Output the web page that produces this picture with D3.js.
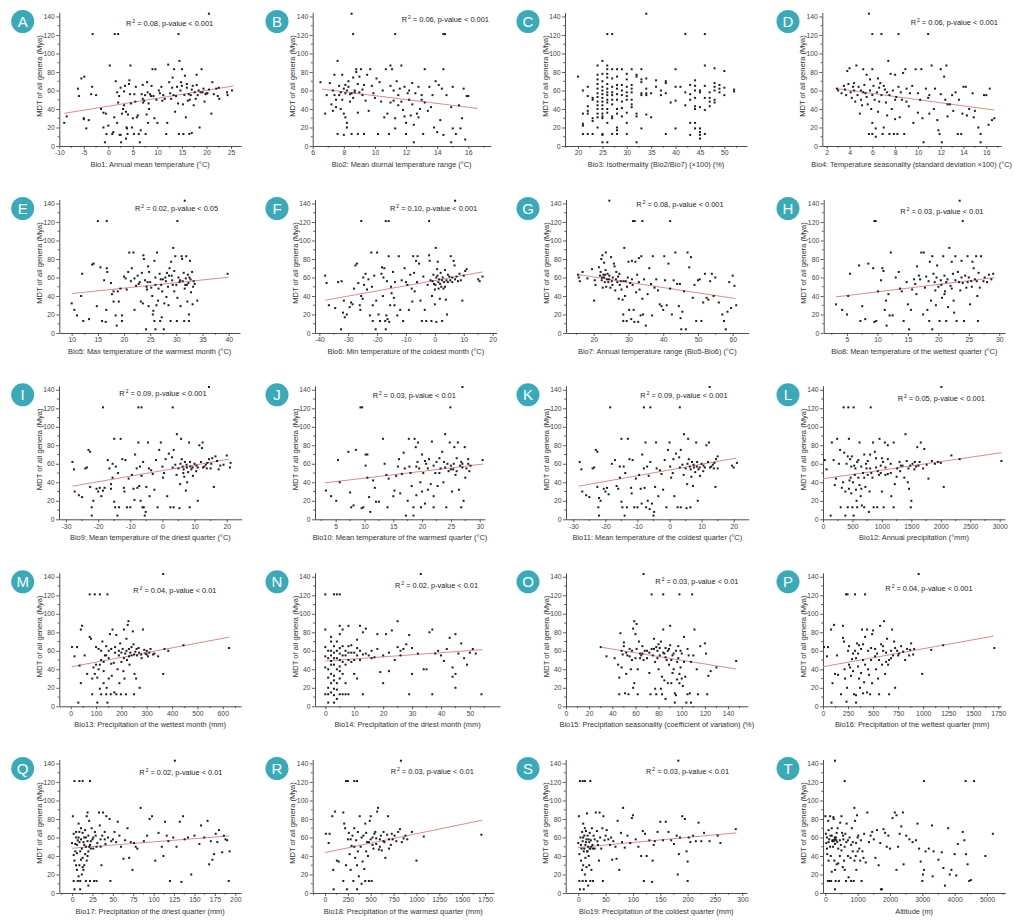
<!DOCTYPE html>
<html><head><meta charset="utf-8">
<script src="https://cdn.jsdelivr.net/npm/d3@7"></script>
<style>
body{margin:0;background:#fff}
svg text{font-family:"Liberation Sans",Arial,sans-serif}
</style>
</head><body>
<svg id="c" width="1014" height="923"></svg>
<script>
// ---------- DATA (x = climate variable, y = MDT of all genera, Mya) ----------
const bio1=[[-3.2,121],[1.3,121],[2,121],[14.3,121],[20.5,143],[-9,25],[-8.5,32],[-6.2,62],[-6,54],[-5.5,73],[-4.9,75],[-5,30],[-5,29],[-4.5,19],[-4,28],[-3.5,56],[-3.3,64],[-2.5,55],[-1.5,40],[-1,36],[-1,20],[-0.5,35],[-0.7,4],[-0.4,13],[0,22],[0.3,87],[0.8,13],[1,15],[1.2,31],[1.5,70],[1.8,25],[1.8,58],[2,47],[2.2,54],[2.3,12],[2.5,12],[2.6,4],[2.5,63],[2.8,35],[3,40],[3.2,44],[3.2,59],[3.4,65],[3.6,37],[3.7,20],[3.8,19],[3.6,8],[3.9,13],[4,34],[4.2,67],[4.3,71],[4.4,56],[4.5,87],[4.6,46],[4.8,20],[5,30],[5.2,13],[5.3,56],[5.5,48],[5.6,64],[5.8,31],[6,33],[6.2,13],[6.4,4],[6.6,17],[6.8,56],[7,66],[7,51],[7.1,47],[7.3,49],[7.5,55],[7.6,13],[7.8,34],[7.9,69],[8,58],[8.1,25],[8.2,46],[8.3,40],[8.5,56],[8.7,54],[8.8,65],[9,83],[9.2,54],[9.4,30],[9.6,83],[9.8,50],[10,25],[10.3,60],[10.5,57],[10.8,64],[11,49],[11.2,55],[11.5,51],[11.8,13],[12,25],[12.2,88],[12.4,69],[12.6,57],[12.8,51],[13,63],[13.1,74],[13.3,55],[13.4,83],[13.6,37],[13.8,54],[14,64],[14.2,46],[14.4,13],[14.5,92],[14.7,60],[14.8,69],[15,65],[15,83],[15.2,45],[15.3,13],[15.5,55],[15.6,76],[15.8,31],[16,67],[16,63],[16.2,49],[16.4,56],[16.5,13],[16.6,50],[16.8,55],[17,61],[17,14],[17.2,65],[17.4,44],[17.6,58],[17.8,51],[18,66],[18,77],[18.2,55],[18.4,60],[18.6,20],[18.8,58],[19,83],[19.2,58],[19.4,62],[19.6,48],[19.8,56],[20,57],[20.2,57],[20.5,61],[21,35],[21.2,69],[21.5,56],[22,62],[22.3,54],[22.5,63],[22.6,51],[24.2,58],[24.3,55],[25.2,60]];
const bio2=[[8.5,143],[8.6,121],[11.3,121],[14.4,121],[14.5,121],[6.5,69],[6.8,35],[6.9,55],[7.1,68],[7.2,45],[7.3,38],[7.3,60],[7.4,77],[7.5,50],[7.5,42],[7.6,92],[7.6,13],[7.7,65],[7.7,55],[7.8,58],[7.8,40],[7.9,77],[7.9,50],[8,62],[8,35],[8,12],[8.1,57],[8.1,31],[8.2,25],[8.2,20],[8.3,70],[8.3,64],[8.4,56],[8.4,48],[8.5,57],[8.5,13],[8.6,74],[8.7,60],[8.7,58],[8.8,83],[8.8,80],[8.9,67],[8.9,36],[8.9,13],[9,75],[9,58],[9.1,83],[9.2,61],[9.2,55],[9.3,13],[9.4,49],[9.5,77],[9.6,38],[9.7,83],[9.8,65],[9.9,57],[10,52],[10.1,73],[10.2,13],[10.3,69],[10.5,60],[10.6,31],[10.7,83],[10.8,35],[10.9,13],[11,87],[11,47],[11,65],[11.1,83],[11.2,60],[11.2,49],[11.3,30],[11.3,19],[11.4,70],[11.5,55],[11.6,62],[11.7,87],[11.7,48],[11.8,39],[11.9,64],[11.9,32],[12,25],[12,13],[12.1,57],[12.2,50],[12.3,33],[12.4,45],[12.4,68],[12.5,23],[12.5,4],[12.6,57],[12.7,35],[12.8,31],[12.8,64],[12.9,40],[13,55],[13.1,13],[13.2,83],[13.2,47],[13.4,38],[13.5,64],[13.6,42],[13.7,55],[13.8,20],[13.9,70],[14,15],[14.1,66],[14.2,28],[14.3,62],[14.4,12],[14.4,83],[14.6,55],[14.9,4],[14.9,42],[15,19],[15,64],[15.2,13],[15.4,44],[15.5,19],[15.6,30],[15.7,62],[15.8,7],[15.9,54],[16,54],[8.2,60],[8.6,52],[9.3,66],[10.4,48],[11.5,44],[12.2,60],[13,50],[7.4,55],[8.1,66]];
const bio3=[[26,121],[27,121],[34,143],[42,121],[46,121],[20,75],[21,60],[21,35],[21,24],[21,22],[21,13],[22,64],[22,54],[22,43],[22,38],[22,35],[22,13],[23,52],[23,50],[23,30],[23,27],[23,13],[24,87],[24,77],[24,72],[24,67],[24,62],[24,57],[24,53],[24,48],[24,44],[24,40],[24,35],[24,31],[24,20],[25,92],[25,78],[25,70],[25,64],[25,60],[25,56],[25,52],[25,48],[25,44],[25,40],[25,35],[25,32],[25,30],[25,13],[25,12],[25,4],[26,87],[26,83],[26,78],[26,74],[26,67],[26,62],[26,58],[26,55],[26,50],[26,47],[26,40],[26,36],[26,25],[26,4],[27,83],[27,73],[27,64],[27,58],[27,55],[27,50],[27,45],[27,32],[27,30],[27,13],[28,83],[28,75],[28,66],[28,62],[28,56],[28,50],[28,40],[28,35],[28,20],[28,17],[28,13],[29,83],[29,66],[29,60],[29,55],[29,48],[29,41],[29,32],[30,78],[30,72],[30,64],[30,58],[30,54],[30,50],[30,36],[30,25],[30,13],[31,83],[31,66],[31,62],[31,58],[31,50],[31,45],[31,42],[32,77],[32,75],[32,35],[32,32],[32,4],[33,83],[33,72],[33,69],[33,57],[33,55],[33,19],[34,73],[34,62],[34,57],[34,55],[34,34],[35,57],[35,31],[36,71],[36,64],[37,60],[37,55],[38,70],[38,68],[38,57],[38,13],[39,47],[40,83],[40,64],[40,49],[40,19],[41,64],[42,58],[42,44],[43,66],[43,56],[43,50],[43,25],[43,12],[44,71],[44,65],[44,60],[44,52],[44,43],[44,40],[44,25],[44,19],[45,60],[45,58],[45,42],[45,19],[45,15],[45,12],[45,8],[46,87],[46,65],[46,52],[46,39],[46,13],[47,58],[47,52],[47,48],[47,43],[48,84],[48,68],[48,64],[48,60],[48,50],[48,47],[49,66],[49,62],[49,58],[50,81],[50,63],[50,55],[52,61],[52,59]];
const bio4=[[5.7,143],[6,121],[6.8,121],[8.3,121],[10.9,121],[2.9,62],[3,60],[3.3,57],[3.5,65],[3.6,61],[3.7,55],[3.8,81],[3.9,67],[4,84],[4.1,58],[4.2,52],[4.3,64],[4.4,68],[4.5,48],[4.6,87],[4.7,55],[4.8,64],[4.9,35],[5,60],[5,50],[5.1,44],[5.2,83],[5.3,66],[5.4,57],[5.5,53],[5.5,77],[5.6,45],[5.7,13],[5.8,72],[5.8,60],[5.9,40],[6,83],[6,25],[6,13],[6.1,65],[6.2,50],[6.3,19],[6.3,10],[6.4,58],[6.5,73],[6.5,37],[6.6,63],[6.7,68],[6.8,55],[6.9,13],[7,65],[7,20],[7.1,61],[7.2,47],[7.3,33],[7.4,92],[7.5,55],[7.5,13],[7.6,78],[7.7,40],[7.8,60],[7.9,13],[8,77],[8,29],[8.1,53],[8.2,13],[8.3,64],[8.4,31],[8.5,58],[8.6,50],[8.7,79],[8.8,13],[8.9,83],[9,62],[9.2,43],[9.3,57],[9.5,65],[9.6,25],[9.8,83],[10,57],[10,36],[10.2,50],[10.3,83],[10.4,30],[10.5,4],[10.7,62],[10.9,52],[11,35],[11.2,87],[11.4,40],[11.5,62],[11.7,28],[11.8,17],[11.9,13],[12,83],[12,56],[12.1,4],[12.3,75],[12.4,50],[12.5,87],[12.6,32],[12.8,45],[13,55],[13.1,38],[13.3,58],[13.5,13],[13.6,50],[13.8,13],[13.9,35],[14,64],[14.2,64],[14.3,33],[14.5,40],[14.8,57],[14.9,31],[15,38],[15.3,20],[15.5,13],[15.5,4],[15.8,55],[16,55],[16.2,23],[16.3,62],[16.5,28],[16.7,30],[4.4,60],[5.2,58],[6,55],[6.6,48],[7.3,58],[8,50],[9,48],[11,55],[12.6,45]];
const bio5=[[15,121],[16.7,121],[30.2,121],[31.6,143],[10,32],[10.5,25],[11,19],[11.8,40],[12,64],[12.2,13],[13.3,15],[13.9,74],[14.2,75],[14.8,29],[15.5,71],[15.8,13],[16.2,57],[16.5,12],[16.6,25],[16.7,70],[16.8,66],[17.5,54],[17.7,42],[18,45],[18,34],[18.4,19],[18.6,8],[18.8,45],[19,34],[19.3,48],[19.6,19],[19.6,13],[20,61],[20.3,59],[20.5,47],[20.8,66],[21,87],[21.3,56],[21.5,70],[21.8,87],[22,59],[22,25],[22.3,51],[22.6,62],[22.8,53],[23,55],[23.2,34],[23.4,65],[23.6,32],[23.7,84],[23.8,80],[24,57],[24.2,4],[24.3,50],[24.4,47],[24.6,72],[24.7,29],[24.8,66],[25,55],[25.2,49],[25.4,40],[25.5,20],[25.6,24],[25.8,78],[25.8,13],[26,60],[26,4],[26.2,30],[26.3,87],[26.5,35],[26.6,48],[26.8,64],[26.9,13],[27.1,52],[27.2,17],[27.3,45],[27.4,58],[27.6,4],[27.7,32],[27.9,60],[28,56],[28.1,39],[28.2,65],[28.4,50],[28.5,30],[28.7,70],[28.9,13],[29,77],[29.1,62],[29.2,57],[29.4,92],[29.6,67],[29.6,45],[29.8,83],[30,52],[30.1,13],[30.2,38],[30.4,60],[30.6,55],[30.8,29],[31,83],[31.1,80],[31.2,56],[31.4,65],[31.5,13],[31.6,48],[31.8,59],[31.9,83],[32,52],[32.1,34],[32.2,63],[32.3,54],[32.4,13],[32.4,20],[32.6,78],[32.7,58],[32.8,44],[33,66],[33.1,31],[33.3,56],[33.5,53],[34,35],[39.8,64],[24.5,55],[26,52],[27,58],[28.6,62],[29.3,52],[30.7,57],[31.7,52],[32.5,60],[33.2,50]];
const bio6=[[-25.5,121],[-17,121],[-16,121],[-2,121],[7,143],[-38,62],[-37.5,54],[-36.7,30],[-34.5,27],[-33.5,55],[-32.5,4],[-32.3,56],[-31.8,22],[-31.5,35],[-31.2,17],[-30.5,20],[-29.5,28],[-29,33],[-28.5,31],[-28,48],[-27.5,73],[-27,75],[-26.5,54],[-26,30],[-25.8,25],[-25.5,40],[-25,37],[-24.8,60],[-24.5,52],[-24,64],[-23.5,47],[-23,58],[-22.5,19],[-22,87],[-21.8,50],[-21.5,30],[-21.5,13],[-21,62],[-20.5,4],[-20.3,35],[-20,87],[-19.5,20],[-19,13],[-18.5,64],[-18.3,71],[-18,40],[-17.8,60],[-17.5,70],[-17.2,13],[-17,4],[-16.8,19],[-16.6,56],[-16.4,15],[-16,83],[-15.8,12],[-15.5,30],[-15.2,50],[-15,43],[-14.5,66],[-14.2,38],[-14,30],[-13.8,55],[-13,19],[-12.5,83],[-12,25],[-11.5,57],[-11,13],[-10.5,70],[-10,55],[-9.5,52],[-9,25],[-8.5,63],[-8,48],[-7.8,34],[-7.5,83],[-7.2,65],[-7,45],[-6.5,78],[-6.2,55],[-6,83],[-5.5,75],[-5,35],[-4.5,13],[-4,61],[-3.5,25],[-3,13],[-2.5,52],[-2,84],[-1.8,78],[-1.5,57],[-1.2,13],[-1,40],[-0.5,63],[-0.3,53],[0,31],[0,47],[0.3,92],[0.5,60],[0.5,12],[0.8,69],[1,77],[1.2,55],[1.3,48],[1.5,58],[1.7,37],[2,65],[2.2,50],[2.5,13],[2.7,60],[3,48],[3.2,55],[3.5,68],[3.8,36],[4,57],[4.2,20],[4.5,63],[5,61],[5.3,57],[5.5,83],[6,55],[6.5,78],[6.8,73],[7,58],[7.5,61],[8,56],[8.5,64],[9,57],[9.5,35],[10,62],[10.5,67],[11,69],[15,58],[15.5,56],[16.5,61],[-0.8,56],[0.2,52],[0.9,62],[1.8,53],[2.5,57],[3.5,50],[4.5,55],[6,60]];
const bio7=[[24.5,143],[31.3,121],[31.8,121],[34,121],[42,121],[15.5,63],[15.7,60],[16,56],[16.8,66],[18.2,59],[19.5,69],[20.1,35],[20.3,57],[20.5,52],[21.5,71],[21.8,62],[22,66],[22.2,80],[22.3,57],[22.5,84],[22.6,49],[22.8,63],[23,60],[23,76],[23.2,55],[23.4,68],[23.5,87],[23.6,50],[23.8,58],[24,64],[24.2,55],[24.5,62],[24.8,49],[25,82],[25.2,56],[25.5,60],[25.8,75],[26,72],[26.2,46],[26.5,66],[26.8,55],[27,61],[27.2,37],[27.5,52],[27.8,56],[28,47],[28.3,36],[28.5,20],[28.5,13],[28.8,92],[29,40],[29.2,56],[29.5,13],[29.8,60],[30,77],[30.2,25],[30.5,54],[30.8,15],[31,78],[31.2,52],[31.5,25],[31.7,12],[32,77],[32.2,44],[32.5,63],[32.8,12],[33,81],[33.2,47],[33.5,19],[33.7,83],[34,37],[34.2,20],[34.5,58],[35,8],[35.5,42],[36,70],[36.5,53],[36.8,19],[37,83],[37.5,49],[38,58],[38.5,46],[39,31],[39.5,29],[40,25],[40.3,83],[40.5,57],[41,30],[41.5,75],[42,48],[42.5,20],[43,57],[43.5,87],[44,53],[44.5,29],[44.8,53],[45,16],[45.2,4],[45.5,23],[46,45],[46.5,4],[47,87],[47.5,71],[48,82],[48.5,38],[49,52],[49.5,13],[50,57],[50.5,58],[51,13],[51.5,33],[52,64],[52.5,38],[53,36],[53.5,56],[54,64],[54.5,40],[55,60],[56,33],[57,20],[57.5,13],[58,4],[58.5,23],[59,55],[59.5,27],[60,62],[60.5,51],[61,30],[22.4,60],[23.3,63],[24.4,58],[25.4,52],[26.4,58],[27.4,64],[28.6,56],[29.6,50],[31,58],[33,55]];
const bio8=[[9.5,121],[9.7,121],[23.5,143],[24,121],[3.2,31],[4.2,25],[5,20],[5.2,40],[5.5,64],[7,73],[7.2,13],[7.5,29],[8,15],[8.5,75],[9.3,70],[9.5,12],[9.8,13],[10.1,45],[10.6,57],[10.8,70],[11,67],[11.2,25],[11.4,35],[11.5,8],[11.8,42],[12,19],[12.2,87],[12.5,19],[13,60],[13.5,66],[13.7,48],[14,45],[14.3,13],[14.8,55],[15,31],[15.2,4],[15.5,25],[15.7,47],[16,58],[16.2,53],[16.5,72],[16.8,62],[17,58],[17.2,87],[17.5,20],[17.6,87],[17.8,49],[18,61],[18.2,25],[18.5,13],[18.6,77],[18.8,35],[19,83],[19,4],[19.2,64],[19.4,55],[19.6,30],[19.8,73],[20,50],[20.2,13],[20.4,57],[20.6,38],[20.8,83],[21,62],[21.1,45],[21.3,13],[21.5,58],[21.6,28],[21.8,92],[22,51],[22.2,77],[22.4,64],[22.5,35],[22.6,22],[22.8,83],[23,13],[23.2,66],[23.4,55],[23.6,46],[23.8,78],[24,54],[24.2,13],[24.4,62],[24.6,49],[24.8,83],[25,60],[25.2,31],[25.4,56],[25.6,77],[25.8,70],[26,58],[26.2,83],[26.4,40],[26.5,13],[26.6,65],[26.8,49],[27,83],[27.4,56],[27.6,60],[28,55],[28.3,63],[28.7,58],[29,64],[18.4,56],[19.5,46],[20.5,52],[21.3,55],[22.8,57],[23.8,60],[24.8,55],[25.5,50],[26.3,56],[19.7,60],[21,42],[22.2,48],[16.4,42]];
const bio9=[[-18.5,121],[-7.5,121],[-6.5,121],[3.2,121],[14.5,143],[-28,62],[-27.5,54],[-27.3,30],[-26,26],[-25,24],[-24,55],[-23.5,56],[-23,75],[-22.5,73],[-22.5,35],[-22,13],[-22,4],[-21.5,20],[-20.5,33],[-20,30],[-19.5,34],[-19,25],[-18.5,31],[-18,34],[-17,64],[-16.5,55],[-16,33],[-16,38],[-15.5,60],[-15.5,45],[-15,87],[-15,19],[-14.7,13],[-14.5,57],[-14,4],[-13.8,50],[-13.5,13],[-13,87],[-12.5,65],[-12,34],[-11.8,30],[-11.5,64],[-11,13],[-10.5,44],[-10,13],[-9.5,48],[-9,33],[-8.7,21],[-8.5,70],[-8,55],[-7.8,34],[-7.5,83],[-7.2,36],[-7,57],[-6.8,20],[-6.5,47],[-6.2,13],[-6,62],[-5.8,13],[-5.5,4],[-5.2,8],[-5,35],[-4.5,83],[-4.2,55],[-4,25],[-3.5,53],[-3,49],[-2.5,32],[-2,64],[-1.5,13],[-1,75],[-0.5,83],[0,57],[0.2,45],[0.5,50],[1,65],[1.5,25],[2,71],[2.5,13],[3,67],[3.5,75],[3.5,13],[4,59],[4.5,92],[5,55],[5.3,12],[5.5,38],[5.8,87],[6,65],[6.3,57],[6.5,50],[6.8,46],[7,62],[7.3,31],[7.5,59],[7.7,40],[8,51],[8.3,83],[8.5,13],[8.7,57],[9,54],[9.5,47],[10,60],[10.5,52],[11,56],[11,20],[11.5,80],[12,62],[12.3,77],[12.5,83],[13,57],[13.5,59],[14,61],[14.5,65],[15,55],[15.5,66],[16,35],[16.5,68],[17,63],[17.5,54],[18,58],[19,59],[20,69],[21,56],[21.2,61],[5.6,60],[6.6,54],[7.6,56],[8.6,62],[9.4,56],[10.6,58],[12.6,56],[13.8,55],[15.2,60],[4.4,48],[3.2,56]];
const bio10=[[9.3,121],[9.6,121],[24.9,121],[27,143],[3.3,31],[4.2,25],[5.1,20],[5.4,64],[5.7,40],[7.2,73],[7.5,29],[7.7,13],[8.1,15],[8.5,75],[9.5,12],[9.8,13],[10.2,70],[10.2,58],[10.5,70],[10.5,45],[10.8,24],[11,8],[11.5,42],[11.8,34],[12,19],[12.5,19],[13.2,87],[13.5,60],[13.8,48],[14,13],[14.2,44],[15,25],[15.2,31],[15.5,47],[15.8,57],[16,65],[16.2,28],[16.5,49],[16.8,72],[17,55],[17.2,4],[17.5,20],[17.7,87],[17.8,57],[18,50],[18.2,36],[18.5,13],[18.5,4],[18.7,87],[18.9,78],[19,26],[19.2,62],[19.3,83],[19.5,55],[19.7,40],[19.8,13],[20,30],[20,70],[20.2,50],[20.5,17],[20.7,60],[21,32],[21.2,65],[21.5,38],[21.7,84],[22,25],[22,13],[22.3,50],[22.5,62],[22.7,36],[23,66],[23.2,55],[23.5,73],[23.7,40],[24,92],[24.2,13],[24.4,60],[24.6,52],[24.8,83],[25,58],[25.2,30],[25.4,54],[25.6,78],[25.8,48],[26,66],[26.2,83],[26.4,32],[26.6,58],[26.8,13],[27,60],[27.2,20],[27.4,78],[27.5,45],[27.7,55],[28,65],[28.2,52],[28.4,58],[30.5,64],[21,55],[22,58],[23,50],[24,56],[25,54],[26,52],[27,56],[28,60],[19,57],[20.5,63],[23.8,62],[26.8,62],[25.5,60]];
const bio11=[[-18.5,121],[-8,121],[-6,121],[3.2,121],[12.5,143],[-28,62],[-27.5,54],[-27.2,30],[-26,26],[-25,24],[-24,55],[-23.5,56],[-23,75],[-22.5,73],[-22.5,35],[-22.2,13],[-22,4],[-22,23],[-21.5,20],[-20.5,33],[-20,30],[-19.5,34],[-19,27],[-18,60],[-17,64],[-16.5,36],[-16,33],[-15.5,57],[-15.5,45],[-15,87],[-15,19],[-14.7,13],[-14.3,57],[-14,4],[-13.8,50],[-13.3,13],[-13,87],[-12.5,65],[-12,34],[-11.8,28],[-11.5,64],[-11,13],[-10.5,44],[-10,13],[-9.5,48],[-9,33],[-8.7,17],[-8.5,70],[-8,55],[-7.8,34],[-7.5,83],[-7.3,13],[-7,57],[-6.8,20],[-6.5,47],[-6.2,11],[-6,62],[-5.5,17],[-5,4],[-4.8,8],[-4.5,35],[-4.2,83],[-4,55],[-3.5,25],[-3,53],[-2.5,49],[-2,32],[-1.5,64],[-1,13],[-0.5,75],[0,83],[0.2,57],[0.5,45],[1,50],[1.2,65],[1.5,25],[2,71],[2.5,13],[3,67],[3.5,75],[3.5,13],[4,59],[4.5,92],[5,55],[5.3,12],[5.5,38],[5.8,87],[6,65],[6.3,57],[6.5,13],[6.8,46],[7,62],[7.3,36],[7.5,59],[8,51],[8.3,83],[8.5,57],[8.8,20],[9,54],[9.5,47],[10,60],[10.5,52],[11,56],[11.5,80],[12,62],[12.3,83],[13,57],[13.5,59],[14,61],[14.3,35],[14.5,65],[15,68],[15,55],[19.5,58],[20,56],[21,61],[5.6,60],[6.6,54],[7.6,56],[8.6,62],[9.4,56],[10.6,58],[12.6,56],[13.8,55],[4.4,48],[3.2,56]];
const bio12=[[350,121],[430,121],[520,121],[810,121],[2010,143],[30,64],[60,54],[130,4],[150,83],[180,64],[200,37],[220,44],[240,87],[270,60],[290,75],[300,13],[320,34],[340,40],[360,72],[380,30],[380,4],[400,60],[420,13],[440,87],[450,42],[460,65],[480,57],[480,28],[490,68],[500,13],[510,40],[520,4],[540,48],[550,55],[560,32],[570,20],[580,13],[600,64],[620,83],[620,37],[640,25],[650,57],[660,15],[680,50],[700,70],[700,13],[720,35],[740,55],[760,63],[780,8],[790,30],[800,70],[820,50],[850,83],[860,13],[880,73],[900,56],[920,13],[950,48],[960,87],[980,50],[1000,30],[1020,62],[1030,13],[1050,83],[1060,56],[1100,49],[1100,80],[1150,60],[1160,25],[1200,83],[1200,13],[1220,38],[1260,55],[1300,62],[1310,52],[1350,58],[1380,45],[1400,92],[1420,63],[1440,40],[1460,33],[1480,58],[1490,13],[1500,20],[1520,60],[1550,54],[1580,57],[1600,78],[1640,62],[1660,83],[1700,55],[1720,76],[1760,59],[1790,44],[1850,63],[1900,60],[1950,62],[2000,61],[2050,35],[2180,69],[2320,65],[3030,63],[420,68],[440,33],[470,45],[530,58],[580,62],[600,45],[650,33],[700,45],[730,60],[760,48],[800,55],[840,45],[900,66],[930,52],[980,58],[1000,66],[1060,48],[1100,65],[1150,50],[1250,46],[1320,58],[1450,55],[1560,62],[1620,58]];
const bio13=[[75,121],[95,121],[115,121],[145,121],[365,143],[5,64],[15,54],[25,64],[30,4],[35,44],[40,83],[40,25],[45,87],[55,55],[65,35],[75,75],[80,73],[85,30],[85,13],[90,42],[95,35],[100,64],[100,45],[105,31],[105,4],[110,62],[115,45],[115,19],[120,60],[120,13],[125,70],[130,38],[130,25],[135,55],[140,65],[140,13],[142,20],[145,4],[150,52],[150,30],[155,78],[158,13],[160,62],[162,33],[165,83],[170,47],[172,15],[175,58],[180,77],[180,13],[185,40],[190,55],[192,25],[195,68],[198,13],[200,48],[205,62],[208,38],[210,83],[212,30],[215,57],[218,13],[220,73],[222,50],[225,88],[228,92],[230,62],[232,45],[235,58],[240,55],[245,81],[248,67],[250,13],[252,35],[255,59],[258,30],[262,55],[268,63],[272,20],[278,56],[285,83],[290,61],[295,57],[300,60],[305,54],[310,58],[315,62],[325,56],[330,57],[345,54],[365,35],[370,62],[385,60],[445,66],[625,63],[120,50],[140,55],[160,46],[175,64],[190,60],[200,58],[210,52],[220,60],[230,54],[240,64],[250,56],[260,62],[270,58],[280,52],[300,56],[110,40],[130,48],[150,60]];
const bio14=[[0,121],[3,121],[4,121],[5,121],[33,143],[0,83],[0,64],[0,54],[0,42],[0,13],[1,40],[1,31],[1,20],[1,4],[1,60],[1,13],[2,75],[2,60],[2,49],[2,35],[2,25],[2,15],[2,70],[2,55],[3,58],[3,45],[3,33],[3,28],[3,19],[3,12],[3,4],[3,65],[4,70],[4,52],[4,40],[4,25],[4,8],[4,18],[5,87],[5,78],[5,63],[5,57],[5,50],[5,43],[5,38],[5,30],[5,13],[6,83],[6,65],[6,48],[6,35],[6,13],[7,60],[7,55],[7,25],[7,13],[8,87],[8,65],[8,50],[8,13],[9,58],[9,48],[10,58],[10,35],[11,72],[11,30],[11,63],[12,87],[12,50],[13,80],[13,56],[13,13],[14,84],[15,55],[16,60],[17,53],[18,78],[19,37],[20,55],[20,25],[21,78],[22,38],[23,82],[24,50],[25,92],[25,64],[26,60],[27,62],[28,67],[29,77],[29,13],[30,63],[30,35],[32,57],[34,40],[35,40],[36,80],[37,13],[37,83],[38,57],[39,60],[40,55],[41,49],[42,62],[43,74],[44,42],[44,32],[45,78],[45,20],[45,35],[46,57],[47,68],[48,52],[49,45],[50,58],[51,62],[52,57],[54,13],[1,52],[2,45],[3,52],[4,60],[6,55],[7,45],[8,58],[9,66],[10,50],[11,55],[12,60],[14,57],[16,52],[18,62],[22,58],[26,55]];
const bio15=[[67,143],[74,121],[84,121],[98,121],[109,121],[30,64],[35,54],[42,52],[45,45],[46,13],[46,31],[47,79],[48,42],[48,60],[49,56],[50,65],[50,69],[51,14],[52,35],[53,55],[54,13],[55,62],[56,40],[57,60],[58,84],[58,20],[59,92],[59,25],[60,52],[60,78],[61,89],[62,40],[62,13],[63,70],[64,57],[65,55],[66,65],[67,50],[68,60],[70,52],[72,36],[73,13],[74,62],[75,55],[76,73],[77,48],[77,19],[78,64],[78,13],[79,60],[80,67],[80,40],[81,55],[82,70],[82,19],[83,32],[83,13],[84,83],[85,57],[85,28],[86,63],[86,8],[87,50],[88,60],[88,25],[89,45],[90,66],[90,87],[91,25],[92,55],[92,36],[93,40],[94,4],[94,14],[95,60],[95,12],[96,48],[96,29],[97,65],[98,35],[98,25],[99,42],[100,57],[100,30],[101,22],[102,75],[103,32],[104,4],[105,13],[106,55],[107,14],[108,48],[108,4],[110,55],[111,83],[113,40],[114,13],[116,65],[120,68],[121,57],[122,13],[123,33],[125,38],[130,42],[147,49],[52,58],[55,54],[57,50],[61,62],[64,52],[66,57],[70,60],[72,58],[76,62],[79,52],[81,63],[84,58],[86,53],[89,62],[91,50],[93,57],[97,52],[99,60],[102,48],[105,62]];
const bio16=[[230,121],[245,121],[320,121],[420,121],[955,143],[10,64],[40,54],[50,64],[80,83],[85,4],[95,25],[110,88],[120,35],[140,55],[150,34],[180,13],[200,74],[200,87],[210,70],[215,40],[220,30],[235,5],[240,20],[250,60],[260,65],[270,42],[280,33],[290,51],[300,57],[310,13],[320,60],[330,4],[330,12],[340,68],[350,43],[360,30],[360,66],[370,20],[380,62],[380,36],[390,83],[400,50],[400,14],[410,26],[420,45],[420,75],[440,83],[440,15],[450,60],[460,34],[470,13],[480,50],[490,25],[490,78],[500,82],[520,54],[530,40],[540,57],[550,30],[560,13],[570,87],[580,67],[590,45],[600,60],[610,92],[620,35],[630,58],[640,73],[650,45],[660,13],[660,50],[680,60],[690,83],[700,55],[710,70],[720,20],[740,60],[760,57],[780,65],[800,59],[820,50],[840,62],[860,55],[870,61],[880,68],[900,56],[910,62],[990,35],[1080,61],[1200,66],[1710,63],[260,45],[300,38],[330,52],[350,57],[400,67],[450,40],[480,63],[520,62],[560,50],[600,65],[630,48],[680,52],[720,63],[750,55]];
const bio17=[[3,121],[9,121],[13,121],[22,121],[126,143],[0,54],[1,83],[2,64],[2,41],[2,13],[3,35],[3,4],[4,53],[5,66],[5,30],[5,60],[6,43],[6,25],[7,57],[7,13],[8,75],[8,18],[9,66],[9,55],[9,30],[10,45],[10,13],[10,4],[11,58],[11,70],[12,48],[12,20],[13,65],[13,38],[14,55],[14,25],[15,60],[15,30],[16,68],[16,42],[17,50],[17,13],[18,83],[18,35],[19,87],[19,56],[20,62],[20,45],[20,8],[21,78],[22,52],[22,13],[23,48],[24,70],[25,58],[26,48],[27,13],[28,66],[29,62],[30,13],[31,54],[33,87],[34,73],[35,58],[36,30],[37,62],[38,87],[40,66],[41,53],[42,83],[44,60],[46,80],[47,13],[48,56],[50,58],[52,66],[54,55],[56,77],[58,62],[60,50],[63,37],[65,57],[68,70],[70,38],[72,55],[74,25],[76,54],[78,50],[80,48],[84,92],[88,56],[92,62],[95,80],[98,83],[102,35],[106,65],[110,50],[112,40],[114,77],[116,62],[118,56],[120,13],[124,60],[128,50],[132,77],[134,12],[136,83],[138,58],[142,60],[146,20],[150,62],[156,53],[158,73],[162,60],[166,78],[168,31],[170,56],[172,36],[174,42],[176,64],[178,55],[180,68],[184,44],[186,62],[188,58],[190,57],[192,13],[193,45],[4,45],[6,52],[8,60],[11,36],[13,28],[15,52],[17,60],[19,40],[21,50],[23,56],[26,60],[30,50],[35,50],[40,58]];
const bio18=[[230,121],[250,121],[320,121],[350,121],[830,143],[10,64],[40,54],[50,64],[80,83],[90,25],[95,4],[110,88],[130,35],[150,34],[200,87],[200,13],[210,75],[220,70],[230,30],[240,4],[250,58],[260,65],[270,42],[280,25],[290,51],[300,62],[310,13],[320,70],[330,38],[340,57],[350,30],[350,4],[360,66],[370,18],[380,83],[390,50],[400,10],[410,34],[420,62],[430,26],[440,75],[440,13],[450,45],[460,55],[470,40],[480,13],[490,78],[500,58],[500,83],[510,13],[520,60],[530,48],[540,64],[550,66],[560,53],[570,88],[580,92],[590,47],[600,58],[610,62],[620,46],[640,66],[650,55],[660,38],[680,63],[690,83],[700,58],[720,52],[740,58],[760,62],[780,56],[800,66],[820,69],[840,55],[860,59],[880,62],[900,58],[950,66],[1000,35],[1080,61],[1710,63],[280,58],[320,50],[360,45],[400,60],[450,65],[480,55],[520,52],[560,59],[600,50],[640,56],[700,48],[730,64]];
const bio19=[[3,121],[8,121],[12,121],[22,121],[183,143],[0,54],[1,83],[2,42],[2,13],[3,4],[4,60],[5,35],[6,48],[7,66],[7,25],[8,56],[8,13],[9,75],[9,30],[10,45],[10,4],[11,62],[12,70],[12,20],[13,52],[13,38],[14,67],[14,13],[15,58],[15,28],[16,86],[16,45],[17,62],[18,50],[18,8],[19,40],[20,55],[20,30],[21,65],[22,48],[22,13],[23,57],[24,25],[25,70],[26,52],[27,13],[28,62],[30,48],[32,87],[34,67],[35,56],[36,52],[38,35],[39,87],[40,60],[42,48],[44,70],[45,13],[46,83],[48,57],[50,62],[52,68],[55,58],[58,52],[60,60],[62,36],[64,56],[68,50],[70,37],[72,78],[75,25],[78,65],[80,55],[82,92],[85,49],[90,62],[95,54],[98,81],[100,84],[105,58],[110,50],[115,40],[118,67],[120,13],[122,64],[125,40],[130,57],[135,12],[136,35],[138,52],[140,56],[145,66],[150,77],[155,57],[160,77],[165,66],[170,57],[175,53],[180,62],[182,20],[184,42],[186,60],[190,83],[195,80],[198,45],[200,13],[200,34],[202,60],[205,55],[210,62],[215,56],[220,76],[225,56],[230,65],[240,56],[255,62],[260,54],[288,69],[5,52],[9,60],[11,48],[14,55],[17,45],[19,58],[21,48],[24,50],[27,48],[30,58]];
const altitude=[[300,143],[600,121],[3050,121],[4340,121],[4600,121],[0,83],[20,64],[30,54],[50,48],[60,42],[80,13],[90,78],[100,68],[100,35],[120,58],[130,13],[150,83],[160,62],[170,40],[180,13],[200,23],[200,70],[220,56],[240,50],[250,82],[260,80],[280,35],[290,60],[300,4],[300,25],[320,13],[330,60],[350,31],[370,55],[380,70],[400,32],[420,13],[450,40],[460,76],[480,52],[500,83],[520,65],[540,28],[560,58],[580,35],[600,25],[620,64],[640,13],[660,75],[700,57],[720,17],[750,60],[780,38],[800,13],[820,70],[850,55],[880,13],[900,92],[920,78],[940,40],[960,25],[980,84],[1000,60],[1020,62],[1050,48],[1080,35],[1100,57],[1120,13],[1150,45],[1180,38],[1200,64],[1250,33],[1300,87],[1350,55],[1400,62],[1450,66],[1500,58],[1550,38],[1600,68],[1650,30],[1700,54],[1720,4],[1750,4],[1800,69],[1850,65],[1900,50],[1950,62],[2000,48],[2080,81],[2150,87],[2200,84],[2200,25],[2250,50],[2300,64],[2350,72],[2400,87],[2420,31],[2500,62],[2600,58],[2700,55],[2800,57],[2850,75],[2900,48],[2950,34],[3000,13],[3020,20],[3050,25],[3100,45],[3200,48],[3300,73],[3320,18],[3350,45],[3500,36],[3600,44],[3650,27],[3700,8],[3800,70],[3850,20],[3900,25],[4000,42],[4050,19],[4100,53],[4250,66],[4300,57],[4350,42],[4400,31],[4450,13],[4500,14],[4950,40],[5180,64],[50,60],[100,55],[150,50],[200,62],[250,57],[300,53],[350,65],[400,48],[450,57],[500,46],[550,62],[600,50],[650,55],[700,40],[800,52],[850,45],[900,35],[950,54],[1000,45],[220,57],[260,56],[300,58],[340,57]];

const panelData=[bio1,bio2,bio3,bio4,bio5,bio6,bio7,bio8,bio9,bio10,bio11,bio12,bio13,bio14,bio15,bio16,bio17,bio18,bio19,altitude];
const panelLetters=["A","B","C","D","E","F","G","H","I","J","K","L","M","N","O","P","Q","R","S","T"];
const xTitles=["Bio1: Annual mean temperature (°C)","Bio2: Mean diurnal temperature range (°C)","Bio3: Isothermality (Bio2/Bio7) (×100) (%)","Bio4: Temperature seasonality (standard deviation ×100) (°C)","Bio5: Max temperature of the warmest month (°C)","Bio6: Min temperature of the coldest month (°C)","Bio7: Annual temperature range (Bio5-Bio6) (°C)","Bio8: Mean temperature of the wettest quarter (°C)","Bio9: Mean temperature of the driest quarter (°C)","Bio10: Mean temperature of the warmest quarter (°C)","Bio11: Mean temperature of the coldest quarter (°C)","Bio12: Annual precipitation (°mm)","Bio13: Precipitation of the wettest month (mm)","Bio14: Precipitation of the driest month (mm)","Bio15: Precipitation seasonality (coefficient of variation) (%)","Bio16: Precipitation of the wettest quarter (mm)","Bio17: Precipitation of the driest quarter (mm)","Bio18: Precipitation of the warmest quarter (mm)","Bio19: Precipitation of the coldest quarter (mm)","Altitude (m)"];
const yTitle="MDT of all genera (Mya)";
const statLabels=["0.08, p-value < 0.001","0.06, p-value < 0.001",null,"0.06, p-value < 0.001","0.02, p-value < 0.05","0.10, p-value < 0.001","0.08, p-value < 0.001","0.03, p-value < 0.01","0.09, p-value < 0.001","0.03, p-value < 0.01","0.09, p-value < 0.001","0.05, p-value < 0.001","0.04, p-value < 0.01","0.02, p-value < 0.01","0.03, p-value < 0.01","0.04, p-value < 0.001","0.02, p-value < 0.01","0.03, p-value < 0.01","0.03, p-value < 0.01",null];
const xTickValues=[[-10,-5,0,5,10,15,20,25],[6,8,10,12,14,16],[20,25,30,35,40,45,50],[2,4,6,8,10,12,14,16],[10,15,20,25,30,35,40],[-40,-30,-20,-10,0,10,20],[20,30,40,50,60],[5,10,15,20,25,30],[-30,-20,-10,0,10,20],[5,10,15,20,25,30],[-30,-20,-10,0,10,20],[0,500,1000,1500,2000,2500,3000],[0,100,200,300,400,500,600],[0,10,20,30,40,50],[0,20,40,60,80,100,120,140],[0,250,500,750,1000,1250,1500,1750],[0,25,50,75,100,125,150,175,200],[0,250,500,750,1000,1250,1500,1750],[0,50,100,150,200,250,300],[0,1000,2000,3000,4000,5000]];
const yTickValues=[0,20,40,60,80,100,120,140];
// fitted regression lines (endpoints)
const fits=[[[-9,35.3],[25.5,64.9]],[[6.6,61.5],[16.6,40.6]],null,[[2.8,62.2],[16.7,38.8]],[[10,42.6],[40,60.3]],[[-38,35.4],[16.5,66]],[[15.4,63.2],[60.8,37.2]],[[3.2,39],[29.2,59.9]],[[-28,35.8],[20.8,65.1]],[[3.1,39.4],[30.6,59.7]],[[-28.3,35.8],[20.8,66.2]],[[0,43.8],[3030,72]],[[4,42.8],[626,74.8]],[[0,48.9],[54.3,61.2]],[[31,63.7],[147,40.3]],[[0,42.8],[1703,75.9]],[[0,48.4],[192.6,61.7]],[[0,43.7],[1720,78.7]],[[0,49.1],[289,65]],null];

// ---------- LAYOUT ----------
const rowY0=[146,333,519.3,706.3,893];
const circleX=[22.7,277,528,788];
const layout=[
 {ax:59.3,ex:241,dom:[-10,27.04],st:[126,25.5]},
 {ax:312.7,ex:490.7,dom:[6,17.44],st:[401.7,22]},
 {ax:565,ex:747,dom:[17.33,54.65]},
 {ax:822.3,ex:1001,dom:[1.61,17.29],st:[910.7,25]},
 {ax:59.3,ex:240,dom:[7.63,42.16],st:[135,211]},
 {ax:315,ex:496.7,dom:[-41.5,21.4],st:[390,211]},
 {ax:566,ex:748.7,dom:[12.03,64.6],st:[636.3,207]},
 {ax:823.7,ex:1005,dom:[1.18,30.94],st:[900.3,213.5]},
 {ax:59,ex:241.7,dom:[-32.18,24.67],st:[119.3,396]},
 {ax:315,ex:485,dom:[1.41,30.92],st:[372.7,397.5]},
 {ax:566,ex:748.7,dom:[-32.28,24.68],st:[640.3,397.5]},
 {ax:823,ex:1005,dom:[0,3090],st:[897.7,401]},
 {ax:59.3,ex:241,dom:[-45,672],st:[133.3,592.5]},
 {ax:315,ex:500,dom:[-3.56,60.4],st:[395,587.5]},
 {ax:566,ex:747.7,dom:[0,157],st:[655.3,583.5]},
 {ax:823,ex:1001.3,dom:[0,1780],st:[885.3,591]},
 {ax:59.3,ex:241,dom:[-15.6,207],st:[139.3,775]},
 {ax:312.7,ex:494,dom:[-134.5,1848],st:[390.7,774]},
 {ax:565.7,ex:747,dom:[-23,308.6],st:[646,773.5]},
 {ax:823,ex:1005.3,dom:[-71,5566]}
];

const svg=d3.select("#c");
svg.append("rect").attr("width",1014).attr("height",923).attr("fill","#fff");
const fmt=d=>String(d);
const axisColor="#3a3a3a", textColor="#333";

panelData.forEach((data,i)=>{
  const row=Math.floor(i/4), col=i%4, L=layout[i], y0=rowY0[row];
  const x=d3.scaleLinear().domain(L.dom).range([L.ax,L.ex]);
  const y=d3.scaleLinear().domain([0,144.3]).range([y0,y0-133.5]);
  const g=svg.append("g");

  // X axis
  const gx=g.append("g").attr("transform",`translate(0,${y0})`)
    .call(d3.axisBottom(x).tickValues(xTickValues[i]).tickSize(3).tickSizeOuter(0).tickPadding(1.5).tickFormat(fmt));
  const xt=xTickValues[i], step=xt[1]-xt[0];
  const xMinor=[];
  for(let v=xt[0]-step/2; v<=L.dom[1]; v+=step){ if(v>=L.dom[0]) xMinor.push(v); }
  gx.selectAll(".minor").data(xMinor).enter().append("line").attr("class","minor")
    .attr("x1",d=>x(d)).attr("x2",d=>x(d)).attr("y1",0).attr("y2",1.8);
  // Y axis
  const gy=g.append("g").attr("transform",`translate(${L.ax},0)`)
    .call(d3.axisLeft(y).tickValues(yTickValues).tickSize(3).tickSizeOuter(0).tickPadding(1.5).tickFormat(fmt));
  const yMinor=d3.range(10,145,20);
  gy.selectAll(".minor").data(yMinor).enter().append("line").attr("class","minor")
    .attr("y1",d=>y(d)).attr("y2",d=>y(d)).attr("x1",0).attr("x2",-1.8);
  [gx,gy].forEach(a=>{
    a.select(".domain").attr("stroke",axisColor).attr("stroke-width",0.9);
    a.selectAll("line").attr("stroke",axisColor).attr("stroke-width",0.8);
    a.selectAll("text").attr("fill","#444").attr("font-size",6.8).attr("font-family","Liberation Sans, Arial, sans-serif");
  });

  // regression line
  if(fits[i]){
    g.append("line").attr("x1",x(fits[i][0][0])).attr("y1",y(fits[i][0][1]))
      .attr("x2",x(fits[i][1][0])).attr("y2",y(fits[i][1][1]))
      .attr("stroke","#e08a8a").attr("stroke-width",1);
  }
  // points
  g.append("g").selectAll("rect").data(data).enter().append("rect")
    .attr("x",d=>x(d[0])-1).attr("y",d=>y(d[1])-1).attr("width",2).attr("height",2)
    .attr("fill","#1e1e1e");

  // titles
  g.append("text").attr("x",(L.ax+L.ex)/2).attr("y",y0+20.5).attr("text-anchor","middle")
    .attr("font-size",7.4).attr("fill",textColor).text(xTitles[i]);
  g.append("text").attr("transform",`translate(${L.ax-17.5},${y0-70}) rotate(-90)`)
    .attr("text-anchor","middle").attr("font-size",7.6).attr("fill",textColor).text(yTitle);

  // stats
  if(statLabels[i]){
    const t=g.append("text").attr("x",L.st[0]).attr("y",L.st[1]).attr("font-size",7.4).attr("fill","#222");
    t.append("tspan").text("R");
    t.append("tspan").attr("dx",1).attr("dy",-3).attr("font-size",5).text("2");
    t.append("tspan").attr("dy",3).text(" = "+statLabels[i]);
  }

  // panel letter badge
  g.append("circle").attr("cx",circleX[col]).attr("cy",y0-124.5).attr("r",11.5).attr("fill","#3aa9b8");
  g.append("text").attr("x",circleX[col]).attr("y",y0-124.5).attr("dy","0.36em").attr("text-anchor","middle")
    .attr("font-size",15).attr("font-family","Lato, 'Open Sans', sans-serif").attr("font-weight",300)
    .attr("fill","#fff").text(panelLetters[i]);
});
</script>
</body></html>
